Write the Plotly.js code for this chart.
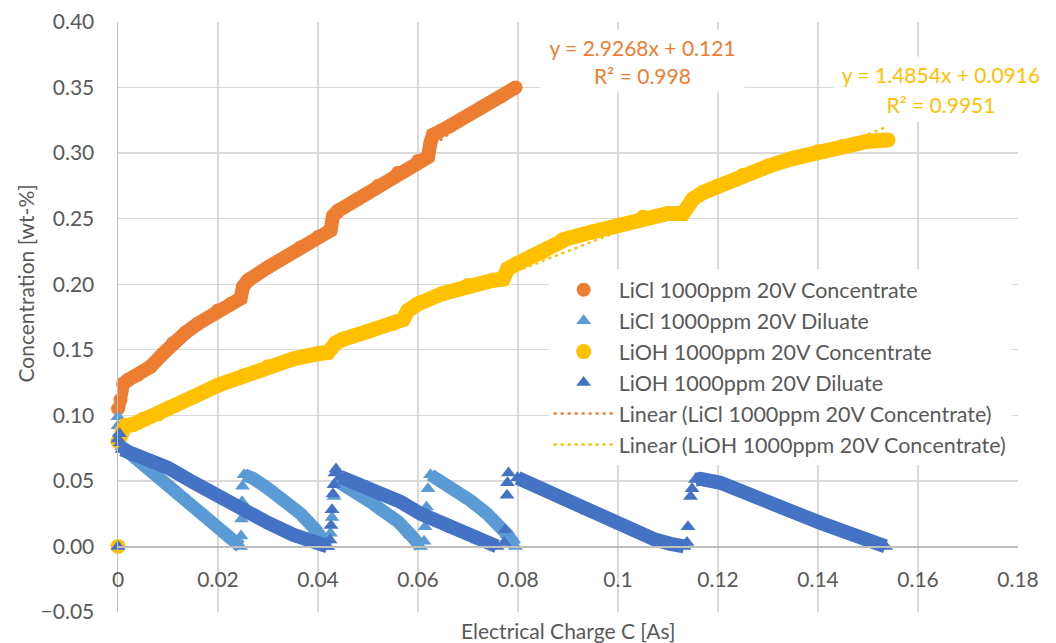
<!DOCTYPE html>
<html>
<head>
<meta charset="utf-8">
<script src="https://cdn.plot.ly/plotly-3.0.1.min.js"></script>
<style>html,body{margin:0;padding:0;background:#fff;}#chart{width:1056px;height:643px;}</style>
</head>
<body>
<div id="chart"></div>
<script>
// ---- Data ----
// LiCl 1000ppm 20V Concentrate (orange circles)
const liclConcX = [0.0, 0.0005, 0.001, 0.002, 0.004, 0.0065, 0.009, 0.011, 0.0135, 0.016, 0.020, 0.0225, 0.0245, 0.025, 0.026, 0.030, 0.0365, 0.040, 0.0425, 0.043, 0.044, 0.048, 0.052, 0.056, 0.060, 0.062, 0.0625, 0.063, 0.0665, 0.0725, 0.0765, 0.0795];
const liclConcY = [0.105, 0.112, 0.124, 0.127, 0.131, 0.137, 0.147, 0.155, 0.163, 0.170, 0.180, 0.185, 0.189, 0.198, 0.203, 0.213, 0.228, 0.236, 0.241, 0.252, 0.256, 0.265, 0.275, 0.285, 0.294, 0.297, 0.308, 0.314, 0.321, 0.3345, 0.343, 0.350];
const liclConcSpikeX = [];
const liclConcSpikeY = [];

// LiCl 1000ppm 20V Diluate (light blue triangles) - continuous bands, null = break
const liclDilX = [0.0008, 0.004, 0.0085, 0.0133, 0.018, 0.0215, 0.0245, null,
                  0.0252, 0.027, 0.0299, 0.0335, 0.0365, 0.0395, 0.0419, null,
                  0.0438, 0.0472, 0.0505, 0.0532, 0.056, 0.0585, 0.0605, null,
                  0.0625, 0.0671, 0.0705, 0.0738, 0.0765, 0.0779, 0.0795];
const liclDilY = [0.076, 0.066, 0.052, 0.037, 0.022, 0.010, 0.000, null,
                  0.0546, 0.052, 0.0445, 0.035, 0.025, 0.013, 0.000, null,
                  0.050, 0.043, 0.034, 0.0265, 0.019, 0.009, 0.000, null,
                  0.0546, 0.044, 0.035, 0.025, 0.015, 0.009, 0.000];
const liclDilSpikeX = [0, 0, 0, 0.0003, 0.0246, 0.0247, 0.0248, 0.0249, 0.0425, 0.0428, 0.0432, 0.0612, 0.0614, 0.0617, 0.062];
const liclDilSpikeY = [0, 0.099, 0.092, 0.087, 0.008, 0.021, 0.034, 0.046, 0.010, 0.022, 0.038, 0.004, 0.015, 0.030, 0.044];

// LiOH 1000ppm 20V Concentrate (gold circles)
const liohConcX = [0.0, 0.0008, 0.0015, 0.003, 0.005, 0.008, 0.010, 0.015, 0.020, 0.025, 0.030, 0.035, 0.040, 0.042, 0.0435, 0.045, 0.050, 0.055, 0.057, 0.058, 0.060, 0.065, 0.070, 0.075, 0.077, 0.078, 0.080, 0.085, 0.089, 0.090, 0.095, 0.100, 0.105, 0.110, 0.113, 0.115, 0.117, 0.120, 0.125, 0.130, 0.135, 0.140, 0.145, 0.150, 0.154];
const liohConcY = [0.080, 0.088, 0.092, 0.093, 0.097, 0.101, 0.105, 0.114, 0.123, 0.130, 0.137, 0.143, 0.147, 0.148, 0.155, 0.158, 0.164, 0.170, 0.173, 0.180, 0.185, 0.193, 0.199, 0.203, 0.204, 0.212, 0.216, 0.225, 0.234, 0.235, 0.240, 0.245, 0.251, 0.254, 0.254, 0.265, 0.270, 0.275, 0.283, 0.290, 0.296, 0.301, 0.305, 0.309, 0.310];
const liohConcSpikeX = [0];
const liohConcSpikeY = [0];

// LiOH 1000ppm 20V Diluate (dark blue triangles)
const liohDilX = [0.0008, 0.005, 0.010, 0.015, 0.020, 0.025, 0.030, 0.035, 0.039, 0.0419, null,
                  0.0445, 0.0499, 0.0565, 0.0605, 0.0672, 0.0720, 0.0738, 0.0758, null,
                  0.0799, 0.0872, 0.0939, 0.1005, 0.1072, 0.1105, 0.1132, null,
                  0.1155, 0.1165, 0.1205, 0.1272, 0.1339, 0.1405, 0.1472, 0.1535];
const liohDilY = [0.074, 0.068, 0.060, 0.049, 0.038, 0.028, 0.018, 0.009, 0.003, 0.000, null,
                  0.053, 0.0457, 0.034, 0.025, 0.013, 0.005, 0.002, 0.000, null,
                  0.0523, 0.0394, 0.027, 0.0155, 0.0055, 0.002, 0.000, null,
                  0.051, 0.0515, 0.0485, 0.0394, 0.028, 0.018, 0.0076, 0.000];
const liohDilSpikeX = [0, 0, 0.0003, 0.0005, 0.0424, 0.0426, 0.0428, 0.043, 0.0432, 0.0434, 0.0436, 0.0772, 0.0774, 0.0778, 0.0779, 0.0781, 0.1138, 0.114, 0.1145, 0.1148];
const liohDilSpikeY = [0, 0.082, 0.086, 0.079, 0.005, 0.016, 0.028, 0.040, 0.047, 0.056, 0.059, 0.003, 0.0127, 0.039, 0.0485, 0.056, 0.003, 0.015, 0.038, 0.044];

// Linear trendlines as printed on the chart
const liclTrend = {slope: 2.9268, intercept: 0.121, r2: '0.998', xEnd: 0.0795};
const liohTrend = {slope: 1.4854, intercept: 0.0916, r2: '0.9951', xEnd: 0.154};

const names = ['LiCl 1000ppm 20V Concentrate', 'LiCl 1000ppm 20V Diluate',
               'LiOH 1000ppm 20V Concentrate', 'LiOH 1000ppm 20V Diluate',
               'Linear (LiCl 1000ppm 20V Concentrate)', 'Linear (LiOH 1000ppm 20V Concentrate)'];
const colors = ['#ED7D31', '#5B9BD5', '#FFC000', '#4472C4'];

const FONT = 'Lato, "Open Sans", sans-serif';
const TXT = '#595959';

function series(name, color, symbol, size, lw, bx, by, sx, sy) {
  return [
    {x: bx, y: by, type: 'scatter', mode: 'lines', line: {color: color, width: lw}, connectgaps: false,
     showlegend: false, hoverinfo: 'skip', cliponaxis: false},
    {x: bx.filter(v => v !== null).concat(sx), y: by.filter(v => v !== null).concat(sy),
     type: 'scatter', mode: 'markers', name: name, cliponaxis: false,
     marker: {symbol: symbol, size: size, color: color}}
  ];
}
function trend(name, color, t) {
  const xs = [0, t.xEnd];
  return {x: xs, y: xs.map(v => t.slope * v + t.intercept), type: 'scatter', mode: 'lines', name: name,
          line: {color: color, width: 2.5, dash: '3px,4px'}};
}

const data = [].concat(
  series(names[0], colors[0], 'circle', 14, 14, liclConcX, liclConcY, liclConcSpikeX, liclConcSpikeY),
  series(names[1], colors[1], 'triangle-up', 13, 13, liclDilX, liclDilY, liclDilSpikeX, liclDilSpikeY),
  series(names[2], colors[2], 'circle', 15, 15, liohConcX, liohConcY, liohConcSpikeX, liohConcSpikeY),
  series(names[3], colors[3], 'triangle-up', 13, 14, liohDilX, liohDilY, liohDilSpikeX, liohDilSpikeY),
  [trend(names[4], colors[0], liclTrend), trend(names[5], colors[2], liohTrend)]
);

function eqText(t) {
  return 'y = ' + t.slope + 'x + ' + t.intercept;
}

const annFont = (c) => ({family: FONT, size: 21, color: c});

const layout = {
  width: 1056, height: 643,
  margin: {l: 118, r: 38, t: 22, b: 31, pad: 0},
  paper_bgcolor: '#fff', plot_bgcolor: '#fff',
  font: {family: FONT, size: 21, color: TXT},
  showlegend: true,
  xaxis: {
    range: [0, 0.18], tick0: 0, dtick: 0.02, showgrid: true, gridcolor: '#D9D9D9', gridwidth: 1.3,
    zeroline: false, showline: true, linecolor: '#BFBFBF', linewidth: 1.5,
    anchor: 'free', position: 0.1111, ticks: '', ticklabelstandoff: 14,
    tickfont: {family: FONT, size: 21, color: TXT}
  },
  yaxis: {
    range: [-0.05, 0.40], tick0: 0, dtick: 0.05, tickformat: '.2f', showgrid: true, gridcolor: '#D9D9D9', gridwidth: 1.3,
    zeroline: false, showline: true, linecolor: '#BFBFBF', linewidth: 1.5, ticks: '', ticklabelstandoff: 18,
    tickfont: {family: FONT, size: 21, color: TXT}
  },
  legend: {
    x: 0.4785, y: 0.581, xanchor: 'left', yanchor: 'top', bgcolor: '#fff', borderwidth: 0,
    itemwidth: 60, font: {family: FONT, size: 21.5, color: TXT}, tracegroupgap: 0
  },
  annotations: [
    {text: 'Concentration [wt-%]', xref: 'paper', yref: 'paper', x: -0.1028, y: 0.5576, textangle: -90,
     showarrow: false, xanchor: 'center', yanchor: 'middle', font: annFont(TXT)},
    {text: 'Electrical Charge C [As]', xref: 'paper', yref: 'paper', x: 0.5, y: -0.0317,
     showarrow: false, xanchor: 'center', yanchor: 'middle', font: annFont(TXT)},
    // R² lines first so the equation boxes sit on top of them
    {text: 'R² = ' + liclTrend.r2, xref: 'x', yref: 'y', x: 0.1048, y: 0.3594, showarrow: false, width: 199, height: 30,
     bgcolor: '#fff', borderpad: 2, font: annFont(colors[0])},
    {text: eqText(liclTrend), xref: 'x', yref: 'y', x: 0.1048, y: 0.381, showarrow: false, width: 199, height: 30,
     bgcolor: '#fff', borderpad: 2, font: annFont(colors[0])},
    {text: 'R² = ' + liohTrend.r2, xref: 'x', yref: 'y', x: 0.1645, y: 0.3378, showarrow: false, width: 210, height: 30,
     bgcolor: '#fff', borderpad: 2, font: annFont(colors[2])},
    {text: eqText(liohTrend), xref: 'x', yref: 'y', x: 0.1645, y: 0.3607, showarrow: false, width: 210, height: 30,
     bgcolor: '#fff', borderpad: 2, font: annFont(colors[2])}
  ]
};

Plotly.newPlot('chart', data, layout, {staticPlot: true, displayModeBar: false});
</script>
</body>
</html>
